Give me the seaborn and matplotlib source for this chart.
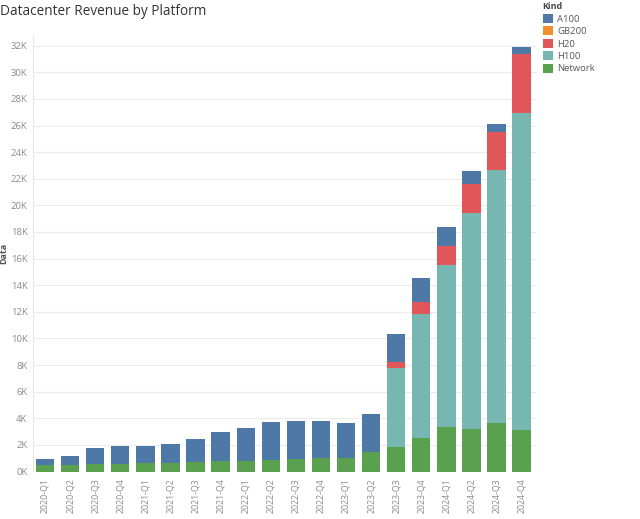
import numpy as np
import pandas as pd
import matplotlib
matplotlib.use("Agg")
import matplotlib.pyplot as plt
from matplotlib.patches import Patch
import seaborn as sns

quarters = ["2020-Q1", "2020-Q2", "2020-Q3", "2020-Q4",
            "2021-Q1", "2021-Q2", "2021-Q3", "2021-Q4",
            "2022-Q1", "2022-Q2", "2022-Q3", "2022-Q4",
            "2023-Q1", "2023-Q2", "2023-Q3", "2023-Q4",
            "2024-Q1", "2024-Q2", "2024-Q3", "2024-Q4"]

# values in thousands (K)
network = [0.49, 0.49, 0.54, 0.59, 0.64, 0.66, 0.71, 0.76, 0.81, 0.89,
           0.94, 0.99, 0.99, 1.48, 1.85, 2.52, 3.34, 3.22, 3.67, 3.14]
h100 = [0, 0, 0, 0, 0, 0, 0, 0, 0, 0,
        0, 0, 0, 0, 5.90, 9.34, 12.15, 16.22, 19.00, 23.77]
h20 = [0, 0, 0, 0, 0, 0, 0, 0, 0, 0,
       0, 0, 0, 0, 0.48, 0.87, 1.43, 2.13, 2.86, 4.43]
gb200 = [0] * 20
a100 = [0.45, 0.67, 1.20, 1.33, 1.28, 1.41, 1.71, 2.18, 2.48, 2.83,
        2.89, 2.84, 2.64, 2.81, 2.13, 1.78, 1.48, 1.01, 0.55, 0.53]

kinds = ["A100", "GB200", "H20", "H100", "Network"]
colors = {"A100": "#4e79a7", "GB200": "#f28e2b", "H20": "#e15759",
          "H100": "#76b7b2", "Network": "#59a14f"}

# stack from bottom: Network, H100, H20, GB200, A100
stack_order = ["Network", "H100", "H20", "GB200", "A100"]
series = {"Network": network, "H100": h100, "H20": h20, "GB200": gb200, "A100": a100}

cum = np.zeros(len(quarters))
cums = {}
for k in stack_order:
    cum = cum + np.array(series[k])
    cums[k] = cum.copy()

sns.set_theme(style="white")
plt.rcParams["font.family"] = ["Open Sans", "DejaVu Sans"]

fig = plt.figure(figsize=(6.4, 5.19), dpi=100)
ax = fig.add_axes([0.0516, 0.0915, 0.787, 0.841])

for k in reversed(stack_order):
    df = pd.DataFrame({"quarter": quarters, "value": cums[k]})
    sns.barplot(data=df, x="quarter", y="value", color=colors[k],
                saturation=1, width=0.73, ax=ax, linewidth=0)

ax.set_ylim(0, 32.8)
ax.set_xlim(-0.48, 19.6)
ax.set_yticks(np.arange(0, 33, 2))
ax.set_yticklabels([f"{v}K" for v in range(0, 33, 2)])
ax.yaxis.grid(True, color="#ececec", linewidth=0.8)
ax.set_axisbelow(True)
for s in ["top", "right", "bottom"]:
    ax.spines[s].set_visible(False)
ax.spines["left"].set_color("#e6e6e6")
ax.spines["left"].set_linewidth(0.8)
ax.tick_params(axis="y", labelsize=6.8, colors="#8a8a8a", length=0, pad=4)
ax.tick_params(axis="x", labelsize=6.3, colors="#8a8a8a", length=0, pad=5,
               labelrotation=90)
ax.set_xlabel("")
ax.set_ylabel("Data", fontsize=6.5, color="#555555", fontweight="bold", labelpad=2)

fig.text(0.0, 0.977, "Datacenter Revenue by Platform", fontsize=9.8,
         color="#333333", va="center", ha="left")

handles = [Patch(facecolor=colors[k], edgecolor="none") for k in kinds]
leg = fig.legend(handles, kinds, title="Kind", loc="upper left",
                 bbox_to_anchor=(0.842, 1.003), frameon=False,
                 fontsize=6.8, title_fontsize=6.5, handlelength=1.05,
                 handleheight=1.05, handletextpad=0.5, labelspacing=0.3,
                 borderaxespad=0, alignment="left")
leg.get_title().set_fontweight("bold")
leg.get_title().set_color("#444444")
for t in leg.get_texts():
    t.set_color("#555555")

fig.savefig("out.png", dpi=100)
